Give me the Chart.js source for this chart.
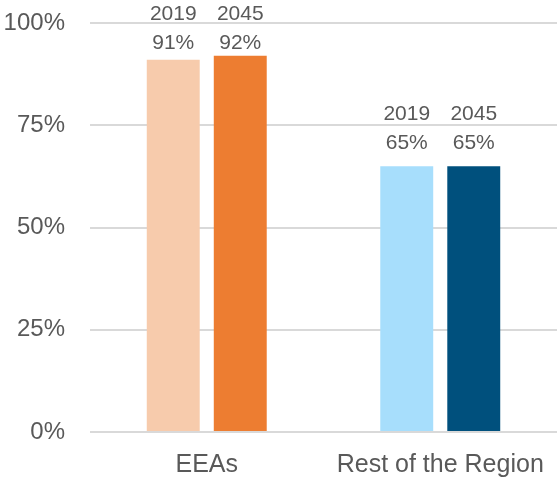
<!DOCTYPE html>
<html>
<head>
<meta charset="utf-8">
<script src="https://cdn.jsdelivr.net/npm/chart.js@4"></script>
<style>
html,body{margin:0;padding:0;background:#fff;}
canvas{display:block;}
</style>
</head>
<body>
<canvas id="c" width="559" height="479"></canvas>
<script>
const categories = ["EEAs", "Rest of the Region"];
const seriesNames = ["2019", "2045"];
const values2019 = [91, 65];
const values2045 = [92, 65];
const colors2019 = ["#F7CBAC", "#A7DEFC"];
const colors2045 = ["#ED7D31", "#00507D"];
const yTicks = [0, 25, 50, 75, 100];

const FONT = "'Liberation Sans', Arial, sans-serif";
const TEXT = "#595959";

const labelPlugin = {
  id: "barLabels",
  afterDatasetsDraw(chart) {
    const ctx = chart.ctx;
    ctx.save();
    ctx.font = "21px " + FONT;
    ctx.fillStyle = TEXT;
    ctx.textAlign = "center";
    ctx.textBaseline = "alphabetic";
    chart.data.datasets.forEach((ds, di) => {
      const meta = chart.getDatasetMeta(di);
      meta.data.forEach((bar, i) => {
        const topBase = Math.max(bar.y - 17.5 - 28.5, 20);
        ctx.fillText(ds.label, bar.x, topBase);
        ctx.fillText(ds.data[i] + "%", bar.x, topBase + 28.5);
      });
    });
    ctx.restore();
  }
};

new Chart(document.getElementById("c"), {
  type: "bar",
  data: {
    labels: categories,
    datasets: [
      { label: seriesNames[0], data: values2019, backgroundColor: colors2019 },
      { label: seriesNames[1], data: values2045, backgroundColor: colors2045 }
    ]
  },
  options: {
    responsive: false,
    animation: false,
    devicePixelRatio: 1,
    layout: { padding: { top: 23, right: 2, bottom: 0, left: 0 } },
    datasets: { bar: { barPercentage: 0.79, categoryPercentage: 0.574 } },
    plugins: { legend: { display: false }, tooltip: { enabled: false } },
    scales: {
      x: {
        afterFit(scale) { scale.height = 47; scale.paddingLeft = 0; scale.paddingRight = 0; },
        grid: { display: false, drawTicks: false },
        border: { display: false },
        ticks: { color: TEXT, font: { family: FONT, size: 25 }, padding: 18, maxRotation: 0 }
      },
      y: {
        min: 0, max: 100,
        afterFit(scale) { scale.width = 90; scale.paddingTop = 0; scale.paddingBottom = 0; },
        afterBuildTicks(scale) { scale.ticks = yTicks.map(v => ({ value: v })); },
        grid: { color: "#D9D9D9", lineWidth: 2, drawTicks: false },
        border: { display: false },
        ticks: {
          color: TEXT, font: { family: FONT, size: 24 }, padding: 25,
          callback: v => v + "%"
        }
      }
    }
  },
  plugins: [labelPlugin]
});
</script>
</body>
</html>
